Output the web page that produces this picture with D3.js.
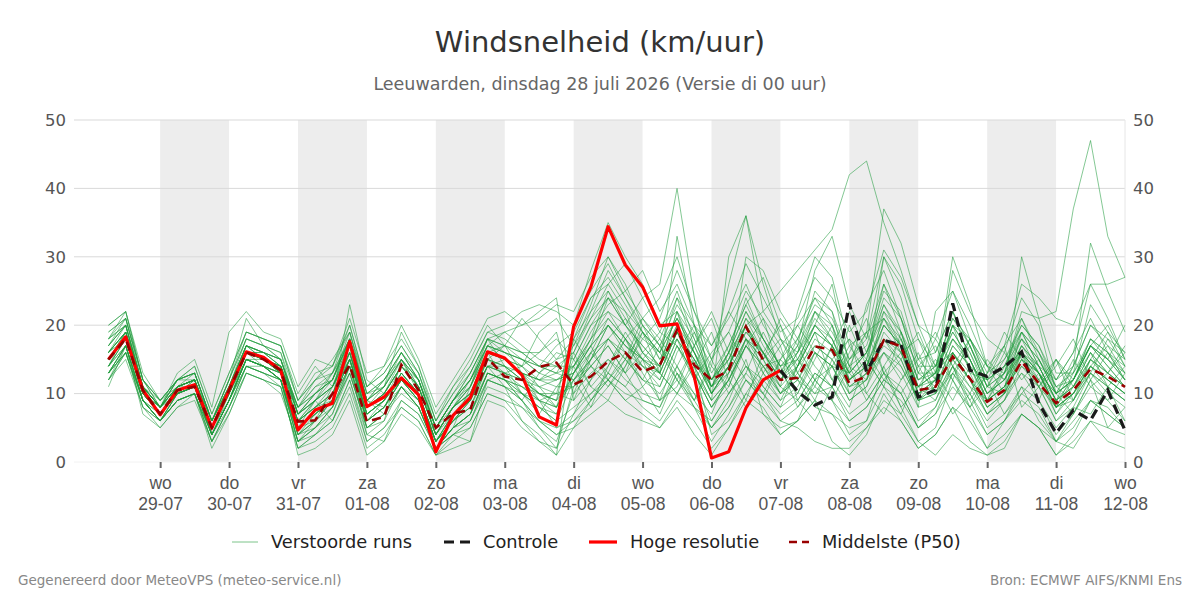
<!DOCTYPE html>
<html>
<head>
<meta charset="utf-8">
<script src="https://d3js.org/d3.v7.min.js"></script>
<style>
  body { margin: 0; background: #fff; }
  svg { font-family: "DejaVu Sans", Verdana, sans-serif; }
</style>
</head>
<body>
<div id="chart"></div>
<script>
// forecast run 28-07-2026, 6-hourly steps starting 06:00
var runStart = new Date(2026, 6, 28, 6);
var stepHours = 6;
var weekdays = ['zo', 'ma', 'di', 'wo', 'do', 'vr', 'za'];
var yTicks = [0, 10, 20, 30, 40, 50];

// Hoge resolutie (steps 0..39)
var hres = [15, 18.3, 10.5, 6.9, 10.5, 11.3, 5, 10.5, 16.1, 15.3, 13.4,
  4.7, 7.6, 8.6, 17.6, 8.1, 9.5, 12.3, 9.8, 1.5,
  6.8, 9.4, 16.1, 15.2, 12.7, 6.6, 5.4, 19.8, 25.6, 34.4,
  28.8, 25.6, 19.9, 20.2, 12.5, 0.6, 1.5, 7.9, 12, 13.4];

// Controle (steps 39..59)
var controlStart = 39;
var control = [13.4, 10.3, 8.3, 9.5, 23.2, 13.2, 17.8, 17.1, 9.5, 10.5,
  23.2, 13.4, 12.5, 13.9, 16.1, 8.6, 4.2, 7.6, 6.1, 10.5, 4.6];

// Middelste (P50), steps 0..59
var p50 = [15, 18, 10.5, 7, 10.5, 11, 5, 10.5, 16, 15, 13.4,
  5.9, 6.1, 10, 14.2, 5.9, 6.6, 14.2, 10.5, 5,
  7.1, 7.6, 15.2, 12.5, 12, 13.9, 14.5, 11.3, 12.5, 14.7,
  16, 13.2, 14.2, 19.3, 14.2, 12, 13.4, 19.8, 14.9, 12,
  12.3, 16.9, 16.4, 11.5, 12.5, 17.8, 16.9, 10.5, 11, 15.4,
  12.2, 8.8, 10.5, 14.7, 11.5, 8.6, 10.5, 13.6, 12.5, 11];

// Verstoorde runs: first 27 steps
var membersEarly = [
  [15,18,10,7,11,11,5,10,16,15,13, 6,8,10,16,7,9,13,10,3, 7,9,15,14,12,10,9],
  [13,17,9,6,10,11,4,9,15,14,12, 4,5,8,13,5,6,11,8,2, 5,7,13,12,10,8,6],
  [17,20,11,8,11,12,6,11,17,16,14, 8,10,12,19,10,12,15,12,5, 9,12,17,16,15,13,12],
  [19,21,12,8,12,13,6,12,21,17,16, 9,12,13,20,11,13,17,13,6, 10,14,19,18,16,14,13],
  [12,16,8,6,9,10,3,8,14,13,11, 2,3,5,10,2,4,8,6,1, 3,5,10,9,8,5,3],
  [16,19,11,9,12,14,7,13,19,18,17, 10,14,11,15,8,11,19,14,7, 11,15,20,17,21,18,15],
  [14,18,10,7,10,12,4,10,15,15,14, 5,6,9,23,12,10,14,11,4, 8,10,16,15,13,9,5],
  [20,22,13,9,11,12,5,9,16,16,15, 7,9,6,12,4,3,9,7,2, 4,3,12,13,14,11,8],
  [11,17,7,5,8,10,2,7,13,12,10, 3,6,11,18,9,8,12,9,3, 6,8,14,11,6,4,1],
  [18,20,10,8,13,15,8,19,22,19,18, 11,15,14,21,13,14,20,15,8, 12,16,21,22,20,22,24],
  [15,19,11,7,11,12,5,11,17,15,13, 5,9,13,17,6,8,13,10,3, 6,9,15,17,13,10,8],
  [16,18,10,8,10,11,4,9,15,14,12, 3,4,7,14,4,6,15,10,2, 5,11,18,14,10,7,11],
  [14,19,9,7,11,12,5,10,17,16,15, 8,12,15,19,9,7,11,9,4, 8,12,16,12,9,13,16],
  [13,16,9,6,9,10,3,8,14,13,12, 1,2,4,9,1,3,7,5,1, 2,3,9,8,5,3,2],
  [17,21,11,8,11,12,6,12,18,17,15, 7,10,12,18,10,11,15,11,5, 9,11,17,19,17,15,14],
  [15,18,10,7,11,12,5,11,16,14,13, 6,8,9,15,7,9,14,12,4, 8,11,16,15,14,16,19],
  [18,22,12,8,12,13,6,11,17,16,14, 8,11,13,18,9,12,16,12,5, 9,13,18,16,14,19,21],
  [12,17,9,6,10,11,4,9,15,14,12, 4,7,9,16,6,8,12,9,2, 5,7,13,12,11,10,9],
  [16,19,11,8,11,12,5,10,16,15,14, 6,9,11,17,8,10,14,11,4, 7,10,15,13,10,8,6],
  [19,21,12,9,12,13,6,12,19,18,17, 9,13,14,20,11,13,17,13,6, 11,14,19,20,22,23,22],
  [13,17,9,6,9,10,4,9,14,13,12, 3,5,7,13,5,7,11,8,2, 4,6,12,11,9,6,4],
  [15,18,10,7,10,11,5,10,16,15,13, 6,8,10,16,8,10,15,11,4, 8,11,17,15,13,12,12],
  [14,17,10,7,10,11,4,9,15,14,12, 5,7,9,14,6,8,12,9,3, 6,8,13,12,10,9,8],
  [17,20,11,8,12,13,6,11,17,16,15, 7,10,12,18,9,11,15,12,5, 9,12,17,16,15,14,14],
  [12,15,8,6,9,10,3,8,13,12,11, 2,4,6,12,3,5,9,7,2, 4,6,11,10,8,6,5],
  [16,19,11,8,11,12,5,10,16,15,14, 7,9,11,16,8,10,14,11,4, 8,10,16,15,13,12,11],
  [13,16,9,6,9,10,4,8,14,13,12, 3,5,8,13,5,7,11,8,2, 5,6,12,11,9,6,4],
  [16,19,10,8,11,12,5,10,16,15,14, 7,9,11,16,8,10,14,11,4, 8,10,16,15,13,11,12],
  [14,18,10,7,10,11,4,9,15,14,13, 5,7,9,15,6,8,12,9,3, 7,9,14,13,11,9,10],
  [18,20,11,8,12,13,6,11,17,16,15, 8,10,12,18,9,11,15,12,5, 9,12,17,16,15,13,15],
  [13,17,9,6,10,11,4,9,15,14,12, 4,6,8,14,6,8,11,8,2, 5,7,13,12,9,5,2],
  [15,18,10,7,10,11,4,9,15,14,13, 5,7,9,15,7,9,13,10,3, 6,9,14,13,12,9,7],
  [16,20,11,8,10,11,5,10,16,16,14, 6,9,12,17,9,11,16,12,5, 8,11,16,17,16,14,17],
  [14,17,9,7,10,12,5,10,15,14,13, 4,6,9,15,6,9,12,10,3, 7,9,14,14,12,10,9],
  [18,21,12,9,12,12,6,12,18,17,16, 7,10,13,18,9,12,16,13,5, 9,12,18,17,16,16,18],
  [12,16,8,5,8,9,3,7,13,12,11, 2,4,6,11,3,5,8,6,1, 4,5,10,9,6,3,1],
  [15,19,10,7,11,12,5,10,16,15,13, 6,8,11,16,7,9,13,10,3, 7,9,15,14,12,10,10],
  [17,20,11,8,11,13,6,11,18,17,15, 8,11,12,18,10,12,16,12,5, 9,13,18,17,15,14,13],
  [13,16,9,6,9,10,4,9,14,14,12, 3,5,8,14,5,7,10,8,2, 5,7,12,11,10,8,7],
  [20,22,12,9,12,14,7,13,19,18,17, 9,12,14,19,11,14,18,14,6, 10,13,18,19,20,21,23],
  [15,18,10,7,10,11,5,10,16,15,14, 5,7,10,15,7,9,13,10,3, 6,8,14,13,12,11,10],
  [14,18,10,7,11,12,5,11,17,15,14, 7,9,11,17,8,10,14,11,4, 8,10,15,14,13,12,13],
  [16,19,11,8,11,12,5,10,16,15,13, 6,8,10,15,7,9,12,10,3, 6,9,14,15,14,12,14],
  [13,17,9,6,10,11,4,9,15,14,12, 4,6,9,14,6,8,12,9,2, 5,7,13,12,11,9,8]
];

// Verstoorde runs: steps 27..59
var membersLate = [
  [20,28,35,30,26,20,22,14,4,6,10,14,15, 12,10,11,20,14,18,16,10,12,20,13,12,14,16,9,5,8,7,11,6],
  [8,10,12,9,11,7,13,8,5,9,15,7,5, 6,12,9,4,6,14,8,3,5,12,7,2,6,11,6,3,7,12,5,8],
  [14,18,22,20,24,26,40,24,10,14,20,13,9, 14,22,18,12,15,26,19,10,12,22,15,9,11,17,13,7,11,15,12,10],
  [12,15,18,16,14,13,19,16,12,15,20,22,25, 28,31,34,42,44,35,28,20,14,16,12,9,11,14,12,8,10,13,11,9],
  [10,13,15,12,10,9,12,8,6,10,14,11,8, 10,16,14,9,11,18,14,9,12,20,18,14,13,22,21,22,37,47,33,27],
  [16,22,28,24,20,17,23,19,14,26,36,22,18, 16,20,26,14,12,22,17,8,9,15,11,7,10,19,14,9,12,18,16,12],
  [6,8,11,14,18,21,28,22,17,21,26,20,16, 12,8,7,5,6,11,9,5,8,14,10,6,9,16,13,10,14,20,17,15],
  [12,14,17,13,9,8,14,10,7,13,30,28,22, 18,24,20,10,13,30,24,15,12,28,22,18,16,24,20,10,12,17,14,11],
  [18,24,26,22,16,13,19,15,11,16,24,18,13, 17,28,33,23,18,26,21,15,16,22,17,11,10,16,13,8,10,15,13,17],
  [9,12,15,13,16,19,25,18,12,15,21,16,11, 9,13,11,7,9,13,11,6,8,13,10,5,7,11,9,4,7,11,9,6],
  [13,17,24,22,19,15,20,13,8,11,17,13,10, 14,20,17,13,16,21,17,11,13,30,23,14,12,16,13,8,9,14,11,9],
  [11,15,20,17,15,13,33,20,11,13,18,14,10, 12,17,15,10,12,19,16,9,10,16,12,7,9,13,11,6,9,13,10,8],
  [15,20,22,18,21,24,30,22,15,19,25,21,17, 20,24,22,15,18,30,26,18,14,18,15,10,13,21,16,12,16,26,21,15],
  [7,10,13,11,8,6,10,8,3,7,12,10,7, 9,13,11,6,8,12,10,5,7,13,9,4,6,10,8,3,5,9,7,5],
  [14,19,23,25,28,22,26,20,13,17,23,18,14, 16,21,18,13,16,23,18,12,14,19,15,10,12,17,14,9,11,16,13,11],
  [10,16,21,18,15,12,18,14,9,30,36,26,18, 14,19,17,11,13,20,17,10,11,17,14,8,10,15,12,7,10,14,12,10],
  [17,23,30,26,20,15,18,12,6,10,14,12,9, 11,16,14,9,11,16,13,8,22,25,18,12,14,20,17,11,12,17,15,20],
  [12,15,18,15,12,11,17,13,9,12,17,14,11, 22,30,27,17,19,37,32,23,16,22,17,12,14,19,16,11,13,18,15,12],
  [12,8,14,19,15,9,11,17,21,14,9,16,20, 13,9,15,18,10,7,12,16,10,14,9,13,17,8,11,15,9,13,18,14],
  [20,25,29,24,19,16,24,20,17,22,29,24,19, 21,27,24,19,22,31,27,20,18,25,20,14,17,26,24,21,20,26,26,27],
  [5,9,13,11,15,18,24,17,11,14,20,15,10, 13,18,16,11,13,17,15,9,10,16,12,7,9,14,11,6,8,13,11,9],
  [13,18,25,20,17,14,22,16,10,14,20,16,12, 15,12,14,13,23,28,21,13,11,15,12,8,10,30,21,13,13,23,19,14],
  [16,11,9,14,20,17,12,9,15,22,18,11,8, 14,19,12,8,15,11,7,13,18,14,8,11,16,12,15,10,7,12,16,13],
  [16,21,26,29,24,19,17,13,8,12,18,15,11, 14,17,15,11,12,16,14,9,11,17,14,9,11,15,13,8,10,14,12,10],
  [7,12,18,21,16,13,10,14,19,12,8,13,17, 9,6,11,15,19,13,8,11,9,14,18,12,7,10,13,8,12,16,11,14],
  [14,17,20,17,15,14,22,18,12,16,22,17,13, 15,20,17,12,14,20,17,11,12,18,14,9,11,16,13,9,14,32,25,19],
  [6,9,12,10,9,8,13,10,5,8,12,9,6, 8,11,9,6,8,12,10,5,7,11,8,4,6,9,7,3,6,9,8,5],
  [13,17,12,15,21,18,14,19,12,17,23,27,20, 15,11,17,22,16,12,15,19,13,9,14,12,17,21,15,11,9,15,19,16],
  [9,15,20,16,12,17,13,9,14,11,18,15,21, 17,12,9,14,19,21,16,11,15,12,18,14,10,13,9,15,12,17,14,11],
  [18,22,25,21,18,16,21,16,11,14,19,16,12, 16,25,22,12,14,21,18,11,13,20,16,10,12,18,15,10,12,17,15,13],
  [11,14,12,9,7,5,8,4,1,5,10,8,4, 6,9,3,1,4,10,6,2,4,8,3,1,2,7,5,1,4,9,7,5],
  [13,16,18,15,12,10,14,9,5,8,13,10,6, 5,3,2,2,5,9,7,3,1,4,2,1,3,7,5,3,2,6,3,2],
  [19,24,27,23,19,16,21,17,12,16,22,18,14, 15,20,18,12,15,23,19,12,13,19,15,10,12,17,14,9,11,16,13,11],
  [15,11,14,18,13,9,16,20,15,10,13,19,14, 8,12,17,13,10,14,18,11,13,16,12,9,14,18,13,10,15,11,13,16],
  [15,20,24,20,17,14,19,15,10,14,20,16,12, 16,22,20,13,16,24,21,13,13,20,16,11,13,19,16,10,12,18,16,14],
  [5,7,9,7,6,5,9,6,2,5,9,7,4, 6,9,7,3,5,8,6,2,4,8,6,2,4,7,5,1,3,6,5,4],
  [11,14,17,13,19,16,12,17,22,16,12,9,15, 18,14,11,16,21,13,10,14,17,12,8,13,19,15,11,14,18,12,9,13],
  [17,21,24,20,16,14,20,16,11,15,21,18,14, 17,22,19,14,16,22,19,12,14,21,17,11,13,18,15,10,12,17,15,12],
  [14,9,12,16,11,14,19,13,8,12,17,21,13, 10,15,20,14,9,13,16,18,12,7,10,15,12,16,11,8,13,17,20,15],
  [22,27,30,25,21,17,21,16,10,13,18,16,13, 18,23,21,15,17,25,22,14,14,21,18,13,15,20,17,12,14,20,18,16],
  [18,14,11,15,19,13,10,15,11,16,20,15,18, 13,10,14,18,15,11,19,14,10,13,17,11,15,19,14,12,16,21,16,12],
  [14,18,21,18,15,13,19,15,10,14,19,16,12, 14,19,17,12,14,20,17,10,12,18,15,9,11,16,14,9,11,15,13,11],
  [12,16,13,18,14,11,17,12,16,19,14,10,15, 20,16,12,17,13,16,12,15,19,14,11,9,13,16,12,15,11,14,17,13],
  [13,17,20,17,14,12,18,14,9,12,17,14,10, 12,16,14,10,12,18,15,9,11,16,13,8,10,15,13,8,10,14,12,10]
];

var W = 1200, H = 600;
var plot = { left: 74, right: 1125, top: 120, bottom: 462 };
var xStart = new Date(2026, 6, 27, 18);
var xEnd = new Date(2026, 7, 12, 0);

function stepTime(i) {
  return d3.timeHour.offset(runStart, i * stepHours);
}

function toPoints(values, offset) {
  return values.map(function (v, i) {
    return { t: stepTime(i + offset), v: v };
  });
}

var svg = d3.select('#chart').append('svg')
  .attr('width', W)
  .attr('height', H);

var x = d3.scaleTime().domain([xStart, xEnd]).range([plot.left, plot.right]);
var y = d3.scaleLinear().domain([0, 50]).range([plot.bottom, plot.top]);

// alternating day bands
var days = d3.timeDay.range(new Date(2026, 6, 29), xEnd);
svg.append('g').selectAll('rect')
  .data(days.filter(function (d, i) { return i % 2 === 0; }))
  .join('rect')
  .attr('x', function (d) { return x(d); })
  .attr('y', plot.top)
  .attr('width', function (d) { return x(d3.timeDay.offset(d, 1)) - x(d); })
  .attr('height', plot.bottom - plot.top)
  .attr('fill', '#ededed');

// horizontal grid
svg.append('g').selectAll('line')
  .data(yTicks)
  .join('line')
  .attr('x1', plot.left)
  .attr('x2', plot.right)
  .attr('y1', function (d) { return y(d); })
  .attr('y2', function (d) { return y(d); })
  .attr('stroke', function (d) { return d === 0 ? '#f2f2f2' : '#d9d9d9'; })
  .attr('stroke-width', 1);

svg.append('line')
  .attr('x1', plot.right).attr('x2', plot.right)
  .attr('y1', plot.top).attr('y2', plot.bottom)
  .attr('stroke', '#e6e6e6');

var line = d3.line()
  .x(function (d) { return x(d.t); })
  .y(function (d) { return y(d.v); });

var membersG = svg.append('g');
membersEarly.forEach(function (early, k) {
  var vals = early.concat(membersLate[k]);
  membersG.append('path')
    .datum(toPoints(vals, 0))
    .attr('d', line)
    .attr('fill', 'none')
    .attr('stroke', '#1f9a3c')
    .attr('stroke-opacity', 0.55)
    .attr('stroke-width', 1);
});

svg.append('path')
  .datum(toPoints(hres, 0))
  .attr('d', line)
  .attr('fill', 'none')
  .attr('stroke', '#ff0000')
  .attr('stroke-width', 3.2)
  .attr('stroke-linejoin', 'round');

svg.append('path')
  .datum(toPoints(control, controlStart))
  .attr('d', line)
  .attr('fill', 'none')
  .attr('stroke', '#1a1a1a')
  .attr('stroke-width', 3.2)
  .attr('stroke-dasharray', '10,6');

svg.append('path')
  .datum(toPoints(p50, 0))
  .attr('d', line)
  .attr('fill', 'none')
  .attr('stroke', '#990000')
  .attr('stroke-width', 2.6)
  .attr('stroke-dasharray', '9,6');

// y labels both sides
var yLabels = svg.append('g')
  .attr('font-size', 16.5)
  .attr('fill', '#555');
yLabels.selectAll('text.left')
  .data(yTicks)
  .join('text')
  .attr('class', 'left')
  .attr('x', 66)
  .attr('y', function (d) { return y(d); })
  .attr('dy', '0.35em')
  .attr('text-anchor', 'end')
  .text(function (d) { return d; });
yLabels.selectAll('text.right')
  .data(yTicks)
  .join('text')
  .attr('class', 'right')
  .attr('x', 1133)
  .attr('y', function (d) { return y(d); })
  .attr('dy', '0.35em')
  .attr('text-anchor', 'start')
  .text(function (d) { return d; });

// x axis: weekday + date
var xAxis = d3.axisBottom(x)
  .tickValues(d3.timeDay.range(new Date(2026, 6, 29), d3.timeHour.offset(xEnd, 1)))
  .tickSize(6)
  .tickFormat('');
var xg = svg.append('g')
  .attr('transform', 'translate(0,' + plot.bottom + ')')
  .call(xAxis);
xg.select('.domain').remove();
xg.selectAll('.tick line').attr('stroke', '#666').attr('stroke-width', 2);
xg.selectAll('.tick').each(function (d) {
  var t = d3.select(this).append('text')
    .attr('fill', '#555')
    .attr('font-size', 17.5)
    .attr('text-anchor', 'middle');
  t.append('tspan').attr('x', 0).attr('y', 27).text(weekdays[d.getDay()]);
  t.append('tspan').attr('x', 0).attr('y', 48).text(d3.timeFormat('%d-%m')(d));
});

svg.append('text')
  .attr('x', W / 2).attr('y', 52)
  .attr('text-anchor', 'middle')
  .attr('font-size', 29)
  .attr('fill', '#333')
  .text('Windsnelheid (km/uur)');

svg.append('text')
  .attr('x', W / 2).attr('y', 90)
  .attr('text-anchor', 'middle')
  .attr('font-size', 17.5)
  .attr('fill', '#666')
  .text('Leeuwarden, dinsdag 28 juli 2026 (Versie di 00 uur)');

// legend
var legendItems = [
  { label: 'Verstoorde runs', x: 232, w: 26, color: '#7cc48a', width: 1, dash: null },
  { label: 'Controle', x: 444, w: 26, color: '#1a1a1a', width: 3.2, dash: '10,6' },
  { label: 'Hoge resolutie', x: 589, w: 28, color: '#ff0000', width: 3.2, dash: null },
  { label: 'Middelste (P50)', x: 789, w: 20, color: '#990000', width: 2.6, dash: '8,5' }
];
var legend = svg.append('g').attr('font-size', 17.8).attr('fill', '#222');
legendItems.forEach(function (item) {
  legend.append('line')
    .attr('x1', item.x).attr('x2', item.x + item.w)
    .attr('y1', 542).attr('y2', 542)
    .attr('stroke', item.color)
    .attr('stroke-width', item.width)
    .attr('stroke-dasharray', item.dash);
  legend.append('text')
    .attr('x', item.x + item.w + 13)
    .attr('y', 542)
    .attr('dy', '0.35em')
    .text(item.label);
});

var foot = svg.append('g')
  .attr('font-size', 13.5)
  .attr('fill', '#888');
foot.append('text').attr('x', 18).attr('y', 585)
  .text('Gegenereerd door MeteoVPS (meteo-service.nl)');
foot.append('text').attr('x', 1182).attr('y', 585)
  .attr('text-anchor', 'end')
  .text('Bron: ECMWF AIFS/KNMI Ens');
</script>
</body>
</html>
